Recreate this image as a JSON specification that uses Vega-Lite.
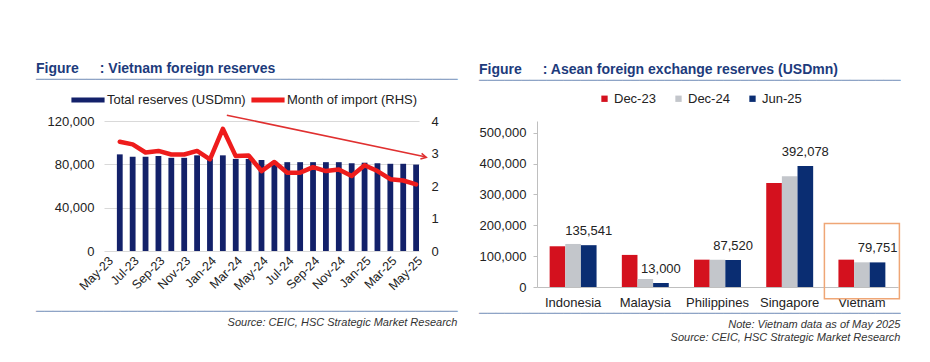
{
  "$schema": "https://vega.github.io/schema/vega-lite/v6.json",
  "background": "white",
  "padding": {"left": 36, "top": 62, "right": 0, "bottom": 0},
  "spacing": 21,
  "config": {
    "font": "Liberation Sans",
    "view": {"stroke": null},
    "axis": {"labelFont": "Liberation Sans", "labelFontSize": 13, "labelColor": "#222222"},
    "legend": {"labelFont": "Liberation Sans", "labelColor": "#222222"}
  },
  "resolve": {"scale": {"color": "independent"}},
  "hconcat": [
    {
      "title": {
        "text": "──────────────────────────────────────────────────",
        "subtitle": "Source: CEIC, HSC Strategic Market Research",
        "orient": "bottom", "anchor": "end", "frame": "bounds", "offset": 13,
        "font": "DejaVu Sans", "fontSize": 14, "fontWeight": "normal", "color": "#8ea4c6",
        "subtitleFont": "Liberation Sans", "subtitleFontSize": 11, "subtitleFontStyle": "italic", "subtitleColor": "#333333", "subtitlePadding": -2
      },
      "vconcat": [
        {
          "width": 315,
          "height": 130,
          "title": {
            "text": "Figure\u2003\u2002: Vietnam foreign reserves",
            "subtitle": "──────────────────────────────────────────────────",
            "anchor": "start", "frame": "bounds", "dx": -11, "offset": 27,
            "font": "Liberation Sans", "fontSize": 14, "fontWeight": "bold", "color": "#1d3b7c",
            "subtitleFont": "DejaVu Sans", "subtitleFontSize": 14, "subtitleColor": "#8ea4c6", "subtitlePadding": -3
          },
          "data": {"values": [
            {"month": "Jun-23", "reserves": 89200, "import": 3.36},
            {"month": "Jul-23", "reserves": 87000, "import": 3.28},
            {"month": "Aug-23", "reserves": 87000, "import": 3.03},
            {"month": "Sep-23", "reserves": 87700, "import": 3.08},
            {"month": "Oct-23", "reserves": 86000, "import": 2.97},
            {"month": "Nov-23", "reserves": 86000, "import": 2.97},
            {"month": "Dec-23", "reserves": 88300, "import": 3.08},
            {"month": "Jan-24", "reserves": 85200, "import": 2.82},
            {"month": "Feb-24", "reserves": 88300, "import": 3.76},
            {"month": "Mar-24", "reserves": 85000, "import": 2.92},
            {"month": "Apr-24", "reserves": 85000, "import": 2.94},
            {"month": "May-24", "reserves": 84000, "import": 2.46},
            {"month": "Jun-24", "reserves": 82500, "import": 2.74},
            {"month": "Jul-24", "reserves": 82000, "import": 2.41},
            {"month": "Aug-24", "reserves": 82000, "import": 2.41},
            {"month": "Sep-24", "reserves": 82000, "import": 2.58},
            {"month": "Oct-24", "reserves": 82000, "import": 2.46},
            {"month": "Nov-24", "reserves": 82000, "import": 2.51},
            {"month": "Dec-24", "reserves": 81000, "import": 2.31},
            {"month": "Jan-25", "reserves": 81500, "import": 2.64},
            {"month": "Feb-25", "reserves": 81000, "import": 2.46},
            {"month": "Mar-25", "reserves": 80500, "import": 2.21},
            {"month": "Apr-25", "reserves": 80500, "import": 2.17},
            {"month": "May-25", "reserves": 79751, "import": 2.05}
          ]},
          "layer": [
            {
              "mark": {"type": "bar"},
              "encoding": {
                "x": {"field": "month", "type": "ordinal", "sort": null,
                  "scale": {"domain": ["May-23","Jun-23","Jul-23","Aug-23","Sep-23","Oct-23","Nov-23","Dec-23","Jan-24","Feb-24","Mar-24","Apr-24","May-24","Jun-24","Jul-24","Aug-24","Sep-24","Oct-24","Nov-24","Dec-24","Jan-25","Feb-25","Mar-25","Apr-25","May-25"], "paddingInner": 0.55, "paddingOuter": 0},
                  "axis": {"values": ["May-23","Jul-23","Sep-23","Nov-23","Jan-24","Mar-24","May-24","Jul-24","Sep-24","Nov-24","Jan-25","Mar-25","May-25"], "labelAngle": -45, "domain": false, "ticks": false, "labelPadding": 3, "title": null, "labelFontSize": 12.5}},
                "y": {"field": "reserves", "type": "quantitative", "scale": {"domain": [0, 120000], "nice": false},
                  "axis": {"values": [0, 40000, 80000, 120000], "format": ",.0f", "grid": true, "gridColor": "#d9d9d9", "domain": false, "ticks": false, "labelPadding": 10, "title": null}},
                "color": {"datum": "Total reserves (USDmn)",
                  "scale": {"domain": ["Total reserves (USDmn)", "Month of import (RHS)"], "range": ["#13216a", "#ee1c1c"]},
                  "legend": {"orient": "none", "legendX": -33, "legendY": -38, "direction": "horizontal", "title": null,
                    "symbolType": "M-1,-0.15H1V0.15H-1Z", "symbolSize": 1100, "symbolStrokeWidth": 0,
                    "labelFontSize": 13, "labelOffset": 2, "columnPadding": 5, "padding": 0}}
              }
            },
            {
              "mark": {"type": "line", "strokeWidth": 4.5, "strokeJoin": "round", "strokeCap": "round"},
              "encoding": {
                "x": {"field": "month", "type": "ordinal", "sort": null},
                "y": {"field": "import", "type": "quantitative", "scale": {"domain": [0, 4], "nice": false},
                  "axis": {"orient": "right", "values": [0, 1, 2, 3, 4], "format": ".0f", "grid": false, "domain": false, "ticks": false, "labelPadding": 12, "title": null}},
                "color": {"datum": "Month of import (RHS)"}
              }
            },
            {
              "data": {"values": [{"s": "Feb-24", "e": "May-25", "ys": 4.18, "ye": 2.89}]},
              "mark": {"type": "rule", "color": "#e03030", "strokeWidth": 1.5, "xOffset": 4, "x2Offset": 10},
              "encoding": {
                "x": {"field": "s", "type": "ordinal"},
                "x2": {"field": "e"},
                "y": {"field": "ys", "type": "quantitative", "scale": {"domain": [0, 4], "nice": false}, "axis": null},
                "y2": {"field": "ye"}
              }
            },
            {
              "data": {"values": [{"e": "May-25", "ye": 2.89}]},
              "mark": {"type": "point", "shape": "M-1,-0.7L0.3,0L-1,0.7", "filled": false, "color": "#e03030", "strokeWidth": 1.5, "size": 70, "angle": 12, "xOffset": 9, "opacity": 1},
              "encoding": {
                "x": {"field": "e", "type": "ordinal"},
                "y": {"field": "ye", "type": "quantitative", "scale": {"domain": [0, 4], "nice": false}, "axis": null}
              }
            }
          ],
          "resolve": {"scale": {"y": "independent"}}
        }
      ]
    },
    {
      "title": {
        "text": "──────────────────────────────────────────────────",
        "subtitle": ["Note: Vietnam data as of May 2025", "Source: CEIC, HSC Strategic Market Research"],
        "orient": "bottom", "anchor": "end", "frame": "bounds", "offset": -2,
        "font": "DejaVu Sans", "fontSize": 14, "fontWeight": "normal", "color": "#8ea4c6",
        "subtitleFont": "Liberation Sans", "subtitleFontSize": 11, "subtitleFontStyle": "italic", "subtitleColor": "#333333", "subtitlePadding": -2
      },
      "vconcat": [
        {
          "width": 361,
          "height": 166,
          "title": {
            "text": "Figure\u2003\u2002: Asean foreign exchange reserves (USDmn)",
            "subtitle": "──────────────────────────────────────────────────",
            "anchor": "start", "frame": "bounds", "dx": 0, "offset": 33,
            "font": "Liberation Sans", "fontSize": 14, "fontWeight": "bold", "color": "#1d3b7c",
            "subtitleFont": "DejaVu Sans", "subtitleFontSize": 14, "subtitleColor": "#8ea4c6", "subtitlePadding": -3
          },
          "data": {"values": [
            {"country": "Indonesia", "period": "Dec-23", "value": 132000},
            {"country": "Indonesia", "period": "Dec-24", "value": 139500},
            {"country": "Indonesia", "period": "Jun-25", "value": 135541},
            {"country": "Malaysia", "period": "Dec-23", "value": 104000},
            {"country": "Malaysia", "period": "Dec-24", "value": 26000},
            {"country": "Malaysia", "period": "Jun-25", "value": 13000},
            {"country": "Philippines", "period": "Dec-23", "value": 88600},
            {"country": "Philippines", "period": "Dec-24", "value": 88600},
            {"country": "Philippines", "period": "Jun-25", "value": 87520},
            {"country": "Singapore", "period": "Dec-23", "value": 337000},
            {"country": "Singapore", "period": "Dec-24", "value": 359000},
            {"country": "Singapore", "period": "Jun-25", "value": 392078},
            {"country": "Vietnam", "period": "Dec-23", "value": 88600},
            {"country": "Vietnam", "period": "Dec-24", "value": 80000},
            {"country": "Vietnam", "period": "Jun-25", "value": 79751}
          ]},
          "layer": [
            {
              "mark": {"type": "bar"},
              "encoding": {
                "x": {"field": "country", "type": "nominal", "sort": null,
                  "scale": {"paddingInner": 0.35, "paddingOuter": 0.175},
                  "axis": {"title": null, "labelAngle": 0, "ticks": false, "domainColor": "#bfbfbf", "labelPadding": 9}},
                "xOffset": {"field": "period", "type": "nominal", "sort": ["Dec-23", "Dec-24", "Jun-25"]},
                "y": {"field": "value", "type": "quantitative", "scale": {"domain": [0, 538000], "nice": false, "zero": false},
                  "axis": {"values": [0, 100000, 200000, 300000, 400000, 500000], "format": ",.0f", "grid": false, "domain": true, "domainColor": "#bfbfbf", "ticks": true, "tickColor": "#bfbfbf", "tickSize": 4, "labelPadding": 7, "title": null}},
                "color": {"field": "period", "type": "nominal",
                  "scale": {"domain": ["Dec-23", "Dec-24", "Jun-25"], "range": ["#d4111e", "#c3c6cb", "#0a2d72"]},
                  "legend": {"orient": "none", "legendX": 61, "legendY": -29, "direction": "horizontal", "title": null,
                    "symbolType": "square", "symbolSize": 40, "symbolStrokeWidth": 0,
                    "labelFontSize": 13, "labelOffset": 3, "columnPadding": 16, "padding": 0}}
              }
            },
            {
              "transform": [{"filter": "datum.period === 'Jun-25'"}],
              "mark": {"type": "text", "dy": -14, "fontSize": 13, "color": "#222222"},
              "encoding": {
                "x": {"field": "country", "type": "nominal", "sort": null,
                  "axis": {"title": null, "labelAngle": 0, "ticks": false, "domainColor": "#bfbfbf", "labelPadding": 9}},
                "xOffset": {"field": "period", "type": "nominal", "sort": ["Dec-23", "Dec-24", "Jun-25"]},
                "y": {"field": "value", "type": "quantitative",
                  "axis": {"values": [0, 100000, 200000, 300000, 400000, 500000], "format": ",.0f", "grid": false, "domain": true, "domainColor": "#bfbfbf", "ticks": true, "tickColor": "#bfbfbf", "tickSize": 4, "labelPadding": 7, "title": null}},
                "text": {"field": "value", "type": "quantitative", "format": ","}
              }
            },
            {
              "data": {"values": [{"country": "Vietnam", "top": 205500, "bottom": -38000}]},
              "mark": {"type": "bar", "width": 75, "fill": "white", "fillOpacity": 0, "stroke": "#efa676", "strokeWidth": 1.5, "clip": false},
              "encoding": {
                "x": {"field": "country", "type": "nominal",
                  "axis": {"title": null, "labelAngle": 0, "ticks": false, "domainColor": "#bfbfbf", "labelPadding": 9}},
                "y": {"field": "top", "type": "quantitative",
                  "axis": {"values": [0, 100000, 200000, 300000, 400000, 500000], "format": ",.0f", "grid": false, "domain": true, "domainColor": "#bfbfbf", "ticks": true, "tickColor": "#bfbfbf", "tickSize": 4, "labelPadding": 7, "title": null}},
                "y2": {"field": "bottom"}
              }
            }
          ]
        }
      ]
    }
  ]
}
